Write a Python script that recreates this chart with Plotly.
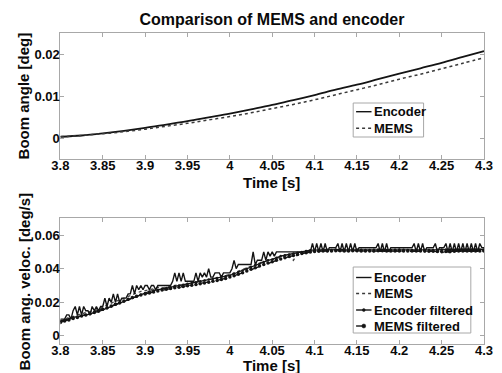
import plotly.graph_objects as go

# ---------------- data ----------------
# Boom angle, sampled every 0.025 s
t_ang = [3.800, 3.825, 3.850, 3.875, 3.900, 3.925, 3.950, 3.975, 4.000, 4.025, 4.050,
         4.075, 4.100, 4.125, 4.150, 4.175, 4.200, 4.225, 4.250, 4.275, 4.300]
ang_encoder = [0.0003, 0.0006, 0.0011, 0.0017, 0.0024, 0.0032, 0.0040, 0.0049, 0.0058, 0.0068, 0.0079,
               0.0090, 0.0102, 0.0115, 0.0127, 0.0140, 0.0153, 0.0166, 0.0179, 0.0193, 0.0207]
ang_mems = [0.0003, 0.0006, 0.0010, 0.0015, 0.0021, 0.0028, 0.0035, 0.0043, 0.0051, 0.0060, 0.0070,
            0.0080, 0.0091, 0.0103, 0.0115, 0.0127, 0.0140, 0.0152, 0.0165, 0.0178, 0.0191]

# Encoder velocity, sampled every 0.0025 s (3.800 ... 4.300)
t_enc = [round(3.8 + 0.0025 * i, 4) for i in range(201)]
vel_encoder = [
    0.0100, 0.0100, 0.0100, 0.0125, 0.0125, 0.0100, 0.0150, 0.0175, 0.0125, 0.0175,
    0.0125, 0.0175, 0.0150, 0.0150, 0.0125, 0.0175, 0.0150, 0.0175, 0.0150, 0.0175,
    0.0175, 0.0225, 0.0175, 0.0225, 0.0200, 0.0250, 0.0200, 0.0250, 0.0200, 0.0225,
    0.0225, 0.0225, 0.0250, 0.0250, 0.0300, 0.0250, 0.0300, 0.0275, 0.0300, 0.0275,
    0.0300, 0.0300, 0.0275, 0.0300, 0.0300, 0.0275, 0.0300, 0.0300, 0.0300, 0.0300,
    0.0300, 0.0300, 0.0300, 0.0325, 0.0375, 0.0325, 0.0375, 0.0325, 0.0375, 0.0325,
    0.0325, 0.0325, 0.0325, 0.0325, 0.0375, 0.0325, 0.0375, 0.0350, 0.0375, 0.0350,
    0.0400, 0.0350, 0.0350, 0.0375, 0.0375, 0.0375, 0.0350, 0.0375, 0.0375, 0.0375,
    0.0375, 0.0400, 0.0450, 0.0400, 0.0425, 0.0425, 0.0425, 0.0425, 0.0425, 0.0425,
    0.0425, 0.0500, 0.0425, 0.0450, 0.0450, 0.0450, 0.0500, 0.0450, 0.0500, 0.0475,
    0.0500, 0.0475, 0.0500, 0.0500, 0.0500, 0.0500, 0.0500, 0.0500, 0.0500, 0.0500,
    0.0500, 0.0500, 0.0500, 0.0500, 0.0500, 0.0500, 0.0500, 0.0500, 0.0500, 0.0550,
    0.0500, 0.0550, 0.0500, 0.0550, 0.0500, 0.0550, 0.0500, 0.0525, 0.0525, 0.0525,
    0.0525, 0.0550, 0.0500, 0.0550, 0.0500, 0.0550, 0.0500, 0.0550, 0.0500, 0.0550,
    0.0500, 0.0525, 0.0525, 0.0525, 0.0525, 0.0525, 0.0525, 0.0525, 0.0525, 0.0525,
    0.0550, 0.0500, 0.0550, 0.0500, 0.0550, 0.0500, 0.0525, 0.0525, 0.0525, 0.0525,
    0.0525, 0.0525, 0.0525, 0.0525, 0.0525, 0.0525, 0.0525, 0.0550, 0.0500, 0.0550,
    0.0500, 0.0550, 0.0500, 0.0525, 0.0525, 0.0525, 0.0525, 0.0550, 0.0500, 0.0525,
    0.0525, 0.0525, 0.0550, 0.0500, 0.0550, 0.0500, 0.0550, 0.0500, 0.0550, 0.0500,
    0.0550, 0.0500, 0.0550, 0.0500, 0.0550, 0.0500, 0.0550, 0.0500, 0.0550, 0.0525,
    0.0525,
]

# MEMS and filtered velocities, sampled every 0.005 s (3.800 ... 4.300)
t_vel = [round(3.8 + 0.005 * i, 4) for i in range(101)]
vel_mems = [
    0.0085, 0.0100, 0.0110, 0.0115, 0.0125, 0.0130, 0.0140, 0.0145, 0.0150, 0.0160,
    0.0170, 0.0185, 0.0195, 0.0205, 0.0215, 0.0225, 0.0235, 0.0245, 0.0255, 0.0265,
    0.0270, 0.0275, 0.0280, 0.0290, 0.0285, 0.0290, 0.0295, 0.0300, 0.0305, 0.0300,
    0.0310, 0.0315, 0.0320, 0.0325, 0.0330, 0.0335, 0.0340, 0.0345, 0.0355, 0.0360,
    0.0365, 0.0375, 0.0385, 0.0395, 0.0405, 0.0415, 0.0425, 0.0435, 0.0440, 0.0450,
    0.0455, 0.0460, 0.0470, 0.0475, 0.0480, 0.0450, 0.0490, 0.0495, 0.0500, 0.0500,
    0.0505, 0.0510, 0.0505, 0.0510, 0.0505, 0.0510, 0.0505, 0.0510, 0.0505, 0.0510,
    0.0505, 0.0510, 0.0505, 0.0510, 0.0500, 0.0510, 0.0505, 0.0510, 0.0505, 0.0510,
    0.0505, 0.0505, 0.0510, 0.0505, 0.0510, 0.0505, 0.0500, 0.0510, 0.0505, 0.0500,
    0.0495, 0.0500, 0.0495, 0.0505, 0.0510, 0.0505, 0.0510, 0.0505, 0.0510, 0.0505,
    0.0510,
]
vel_encoder_filt = [
    0.0090, 0.0095, 0.0100, 0.0110, 0.0115, 0.0120, 0.0125, 0.0130, 0.0140, 0.0145,
    0.0155, 0.0165, 0.0175, 0.0185, 0.0195, 0.0205, 0.0215, 0.0225, 0.0235, 0.0245,
    0.0255, 0.0265, 0.0270, 0.0275, 0.0280, 0.0285, 0.0290, 0.0295, 0.0300, 0.0305,
    0.0310, 0.0315, 0.0320, 0.0325, 0.0330, 0.0335, 0.0340, 0.0345, 0.0350, 0.0355,
    0.0360, 0.0370, 0.0380, 0.0390, 0.0400, 0.0410, 0.0420, 0.0430, 0.0440, 0.0450,
    0.0455, 0.0465, 0.0475, 0.0480, 0.0485, 0.0490, 0.0495, 0.0500, 0.0505, 0.0510,
    0.0510, 0.0512, 0.0514, 0.0513, 0.0512, 0.0514, 0.0515, 0.0513, 0.0512, 0.0513,
    0.0514, 0.0513, 0.0512, 0.0512, 0.0513, 0.0514, 0.0513, 0.0512, 0.0512, 0.0513,
    0.0514, 0.0513, 0.0512, 0.0512, 0.0513, 0.0514, 0.0513, 0.0512, 0.0512, 0.0513,
    0.0514, 0.0515, 0.0514, 0.0513, 0.0514, 0.0515, 0.0515, 0.0514, 0.0514, 0.0515,
    0.0515,
]
vel_mems_filt = [
    0.0080, 0.0088, 0.0095, 0.0103, 0.0110, 0.0118, 0.0125, 0.0132, 0.0140, 0.0148,
    0.0158, 0.0168, 0.0178, 0.0188, 0.0198, 0.0208, 0.0218, 0.0228, 0.0236, 0.0244,
    0.0250, 0.0256, 0.0262, 0.0268, 0.0273, 0.0278, 0.0282, 0.0286, 0.0290, 0.0294,
    0.0298, 0.0302, 0.0306, 0.0310, 0.0315, 0.0320, 0.0325, 0.0330, 0.0336, 0.0342,
    0.0350, 0.0358, 0.0367, 0.0376, 0.0386, 0.0396, 0.0406, 0.0416, 0.0425, 0.0434,
    0.0442, 0.0450, 0.0458, 0.0465, 0.0472, 0.0478, 0.0484, 0.0490, 0.0495, 0.0499,
    0.0502, 0.0504, 0.0505, 0.0506, 0.0506, 0.0507, 0.0507, 0.0506, 0.0506, 0.0507,
    0.0507, 0.0506, 0.0505, 0.0505, 0.0506, 0.0507, 0.0507, 0.0506, 0.0505, 0.0505,
    0.0506, 0.0506, 0.0505, 0.0505, 0.0506, 0.0506, 0.0505, 0.0504, 0.0504, 0.0503,
    0.0502, 0.0502, 0.0503, 0.0504, 0.0505, 0.0505, 0.0506, 0.0506, 0.0506, 0.0506,
    0.0506,
]

x_ticks = [3.8, 3.85, 3.9, 3.95, 4.0, 4.05, 4.1, 4.15, 4.2, 4.25, 4.3]
x_tick_labels = ["3.8", "3.85", "3.9", "3.95", "4", "4.05", "4.1", "4.15", "4.2", "4.25", "4.3"]
ang_ticks = [0, 0.01, 0.02]
ang_tick_labels = ["0", "0.01", "0.02"]
vel_ticks = [0, 0.02, 0.04, 0.06]
vel_tick_labels = ["0", "0.02", "0.04", "0.06"]

# ---------------- styling ----------------
W, H = 502, 373
FONT = "Liberation Sans, Arial, sans-serif"
AXIS_COLOR = "#a8a8a8"
INK = "#141414"
TXT = "#0a0a0a"


def px(x):
    return x / W


def py(y):
    return 1 - y / H


fig = go.Figure()

# top panel: boom angle
fig.add_trace(go.Scatter(x=t_ang, y=ang_encoder, mode="lines", line=dict(color=INK, width=1.8, shape="spline"),
                         xaxis="x", yaxis="y", showlegend=False, name="Encoder"))
fig.add_trace(go.Scatter(x=t_ang, y=ang_mems, mode="lines",
                         line=dict(color="#3a3a3a", width=1.5, dash="dot", shape="spline"),
                         xaxis="x", yaxis="y", showlegend=False, name="MEMS"))

# bottom panel: boom angular velocity
fig.add_trace(go.Scatter(x=t_vel, y=vel_mems, mode="lines", line=dict(color="#444444", width=1.3, dash="dot"),
                         xaxis="x2", yaxis="y2", showlegend=False, name="MEMS"))
fig.add_trace(go.Scatter(x=t_vel, y=vel_mems_filt, mode="lines+markers",
                         line=dict(color=INK, width=1.3, dash="dash"), marker=dict(size=3.5, color=INK),
                         xaxis="x2", yaxis="y2", showlegend=False, name="MEMS filtered"))
fig.add_trace(go.Scatter(x=t_vel, y=vel_encoder_filt, mode="lines+markers",
                         line=dict(color=INK, width=1.3), marker=dict(size=2.5, color=INK),
                         xaxis="x2", yaxis="y2", showlegend=False, name="Encoder filtered"))
fig.add_trace(go.Scatter(x=t_enc, y=vel_encoder, mode="lines", line=dict(color=INK, width=1.4),
                         xaxis="x2", yaxis="y2", showlegend=False, name="Encoder"))

tickfont = dict(family=FONT, size=13, color=TXT)
titlefont = dict(family=FONT, size=15, color=TXT)


def xaxis(domain, anchor):
    return dict(domain=domain, anchor=anchor, range=[3.8, 4.3], tickmode="array", tickvals=x_ticks,
                ticktext=[f"<b>{s}</b>" for s in x_tick_labels], ticks="inside", ticklen=4,
                tickcolor=AXIS_COLOR, showline=True, linecolor=AXIS_COLOR, linewidth=1, mirror="ticks",
                showgrid=False, zeroline=False, tickfont=tickfont, ticklabelstandoff=-6)


def yaxis(domain, anchor, rng, vals, labels):
    return dict(domain=domain, anchor=anchor, range=rng, tickmode="array", tickvals=vals,
                ticktext=[f"<b>{s}</b>" for s in labels], ticks="inside", ticklen=4,
                tickcolor=AXIS_COLOR, showline=True, linecolor=AXIS_COLOR, linewidth=1, mirror="ticks",
                showgrid=False, zeroline=False, tickfont=tickfont, ticklabelstandoff=-3)


x_dom = [px(53.3), px(492.7)]
fig.update_layout(
    width=W, height=H, margin=dict(l=0, r=0, t=0, b=0),
    paper_bgcolor="white", plot_bgcolor="white",
    xaxis=xaxis(x_dom, "y"),
    yaxis=yaxis([py(159), py(33)], "x", [-0.005, 0.025], ang_ticks, ang_tick_labels),
    xaxis2=xaxis(x_dom, "y2"),
    yaxis2=yaxis([py(344.3), py(218.3)], "x2", [-0.005, 0.07], vel_ticks, vel_tick_labels),
    title=dict(text="<b>Comparison of MEMS and encoder</b>", x=272 / W, xanchor="center",
               y=py(19), yanchor="middle", font=dict(family=FONT, size=16, color=TXT)),
    showlegend=False,
)

shapes = []
annotations = []

# axis titles
for text, x, y, angle in [("Time [s]", 272, 182, 0), ("Time [s]", 272, 365.5, 0),
                          ("Boom angle [deg]", 16, 96, -90), ("Boom ang. veloc. [deg/s]", 16, 281, -90)]:
    annotations.append(dict(text=f"<b>{text}</b>", xref="paper", yref="paper", x=px(x), y=py(y),
                            xanchor="center", yanchor="middle", textangle=angle, showarrow=False,
                            font=titlefont, borderpad=0))


# ---------------- legends ----------------
def legend_box(x0, y0, x1, y1):
    shapes.append(dict(type="rect", xref="paper", yref="paper", x0=px(x0), x1=px(x1), y0=py(y1), y1=py(y0),
                       line=dict(color=AXIS_COLOR, width=1), fillcolor="white", layer="above"))


def legend_entry(y, label, dash="solid", color=INK, marker=0):
    shapes.append(dict(type="line", xref="paper", yref="paper", x0=px(360), x1=px(376), y0=py(y), y1=py(y),
                       line=dict(color=color, width=1.4, dash=dash), layer="above"))
    if marker:
        r = marker / 2
        shapes.append(dict(type="circle", xref="paper", yref="paper", x0=px(368 - r), x1=px(368 + r),
                           y0=py(y + r), y1=py(y - r), line=dict(color=INK, width=0.5),
                           fillcolor=INK, layer="above"))
    annotations.append(dict(text=f"<b>{label}</b>", xref="paper", yref="paper", x=px(376.5), y=py(y),
                            xanchor="left", yanchor="middle", showarrow=False,
                            font=dict(family=FONT, size=13, color=TXT)))


legend_box(357, 103, 430, 137)
legend_entry(111.7, "Encoder")
legend_entry(128.3, "MEMS", dash="dot", color="#3a3a3a")

legend_box(357, 267, 479, 333)
legend_entry(277.5, "Encoder")
legend_entry(293.5, "MEMS", dash="dot", color="#3a3a3a")
legend_entry(310, "Encoder filtered", marker=3)
legend_entry(326, "MEMS filtered", dash="dash", marker=4)

fig.update_layout(shapes=shapes, annotations=annotations)

fig.write_html("out.html")
